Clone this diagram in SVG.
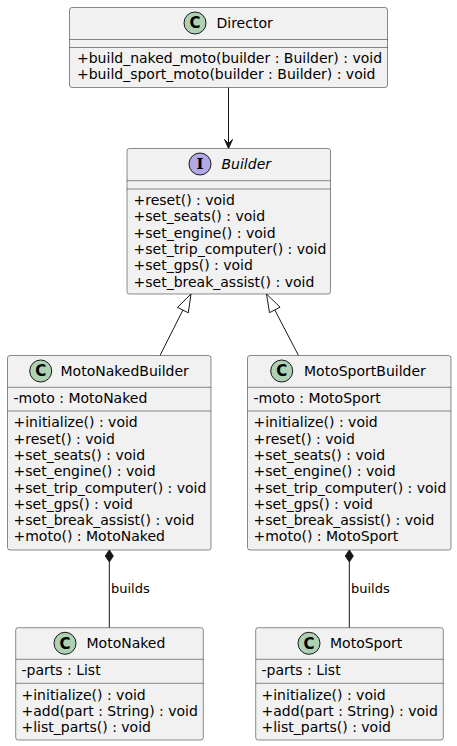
<svg xmlns="http://www.w3.org/2000/svg" width="457" height="746" viewBox="0 0 457 746">
<style>
  .box { fill: #F1F1F1; stroke: #181818; stroke-width: 0.5; }
  .sep { stroke: #181818; stroke-width: 0.5; }
  .t { font-family: "DejaVu Sans", "Noto Sans", sans-serif; font-size: 14px; fill: #000000; }
  .it { font-style: italic; }
  .lbl { font-family: "DejaVu Sans", "Noto Sans", sans-serif; font-size: 13px; fill: #000000; }
  .cc { fill: #ADD1B2; stroke: #181818; stroke-width: 1; }
  .ci { fill: #B4A7E5; stroke: #181818; stroke-width: 1; }
  .cl { font-family: "DejaVu Sans", sans-serif; font-size: 15px; font-weight: bold; fill: #000000; text-anchor: middle; }
  .il { font-family: "DejaVu Serif", "Liberation Serif", serif; font-size: 15px; font-weight: bold; fill: #000000; text-anchor: middle; }
  .edge { stroke: #181818; stroke-width: 1; fill: none; }
</style>

<g id="connectors">
  <line class="edge" x1="228.5" y1="87.5" x2="228.5" y2="147"/>
  <polygon points="228.5,148.5 224.5,139.5 228.5,143.5 232.5,139.5" fill="#181818" stroke="#181818" stroke-width="1"/>
  <line class="edge" x1="182.9" y1="310.1" x2="160" y2="355.5"/>
  <polygon points="191,294 177.5,307.4 188.3,312.8" fill="none" stroke="#181818" stroke-width="1"/>
  <line class="edge" x1="274.8" y1="310" x2="298.5" y2="355.5"/>
  <polygon points="266.5,294 280.1,307.2 269.5,312.7" fill="none" stroke="#181818" stroke-width="1"/>
  <polygon points="109.3,550 105.3,556 109.3,562 113.3,556" fill="#181818" stroke="#181818" stroke-width="1"/>
  <line class="edge" x1="109.3" y1="562" x2="109.3" y2="627.7"/>
  <text class="lbl" x="111" y="593">builds</text>
  <polygon points="349.3,550 345.3,556 349.3,562 353.3,556" fill="#181818" stroke="#181818" stroke-width="1"/>
  <line class="edge" x1="349.3" y1="562" x2="349.3" y2="627.7"/>
  <text class="lbl" x="351" y="593">builds</text>
</g>

<g id="Director">
  <rect class="box" x="69.5" y="7.5" width="318" height="80" rx="2.5" ry="2.5"/>
  <ellipse class="cc" cx="195" cy="23" rx="11" ry="11"/>
  <text class="cl" x="195" y="28.3">C</text>
  <text class="t" x="216.5" y="28">Director</text>
  <line class="sep" x1="69.5" y1="39.5" x2="387.5" y2="39.5"/>
  <line class="sep" x1="69.5" y1="47.5" x2="387.5" y2="47.5"/>
  <text class="t" x="77" y="63">+build_naked_moto(builder : Builder) : void</text>
  <text class="t" x="77" y="79.3">+build_sport_moto(builder : Builder) : void</text>
</g>

<g id="Builder">
  <rect class="box" x="127" y="148.5" width="203.5" height="145.5" rx="2.5" ry="2.5"/>
  <ellipse class="ci" cx="200" cy="164" rx="11" ry="11"/>
  <text class="il" x="200" y="169.3">I</text>
  <text class="t it" x="221.5" y="169">Builder</text>
  <line class="sep" x1="127" y1="180.7" x2="330.5" y2="180.7"/>
  <line class="sep" x1="127" y1="189" x2="330.5" y2="189"/>
  <text class="t" x="133.5" y="205">+reset() : void</text>
  <text class="t" x="133.5" y="221.3">+set_seats() : void</text>
  <text class="t" x="133.5" y="237.6">+set_engine() : void</text>
  <text class="t" x="133.5" y="253.9">+set_trip_computer() : void</text>
  <text class="t" x="133.5" y="270.2">+set_gps() : void</text>
  <text class="t" x="133.5" y="286.5">+set_break_assist() : void</text>
</g>

<g id="MotoNakedBuilder">
  <rect class="box" x="7.5" y="355.5" width="203.5" height="194.5" rx="2.5" ry="2.5"/>
  <ellipse class="cc" cx="40.7" cy="371" rx="11" ry="11"/>
  <text class="cl" x="40.7" y="376.3">C</text>
  <text class="t" x="60.5" y="376">MotoNakedBuilder</text>
  <line class="sep" x1="7.5" y1="387.3" x2="211" y2="387.3"/>
  <text class="t" x="13.5" y="403.3">-moto : MotoNaked</text>
  <line class="sep" x1="7.5" y1="411" x2="211" y2="411"/>
  <text class="t" x="13.5" y="427.3">+initialize() : void</text>
  <text class="t" x="13.5" y="443.6">+reset() : void</text>
  <text class="t" x="13.5" y="459.9">+set_seats() : void</text>
  <text class="t" x="13.5" y="476.2">+set_engine() : void</text>
  <text class="t" x="13.5" y="492.5">+set_trip_computer() : void</text>
  <text class="t" x="13.5" y="508.8">+set_gps() : void</text>
  <text class="t" x="13.5" y="525.1">+set_break_assist() : void</text>
  <text class="t" x="13.5" y="541.4">+moto() : MotoNaked</text>
</g>

<g id="MotoSportBuilder">
  <rect class="box" x="247.5" y="355.5" width="203.5" height="194.5" rx="2.5" ry="2.5"/>
  <ellipse class="cc" cx="281.7" cy="371" rx="11" ry="11"/>
  <text class="cl" x="281.7" y="376.3">C</text>
  <text class="t" x="304" y="376">MotoSportBuilder</text>
  <line class="sep" x1="247.5" y1="387.3" x2="451" y2="387.3"/>
  <text class="t" x="253.5" y="403.3">-moto : MotoSport</text>
  <line class="sep" x1="247.5" y1="411" x2="451" y2="411"/>
  <text class="t" x="253.5" y="427.3">+initialize() : void</text>
  <text class="t" x="253.5" y="443.6">+reset() : void</text>
  <text class="t" x="253.5" y="459.9">+set_seats() : void</text>
  <text class="t" x="253.5" y="476.2">+set_engine() : void</text>
  <text class="t" x="253.5" y="492.5">+set_trip_computer() : void</text>
  <text class="t" x="253.5" y="508.8">+set_gps() : void</text>
  <text class="t" x="253.5" y="525.1">+set_break_assist() : void</text>
  <text class="t" x="253.5" y="541.4">+moto() : MotoSport</text>
</g>

<g id="MotoNaked">
  <rect class="box" x="15.7" y="627.7" width="187.6" height="112.3" rx="2.5" ry="2.5"/>
  <ellipse class="cc" cx="65" cy="643.3" rx="11" ry="11"/>
  <text class="cl" x="65" y="648.6">C</text>
  <text class="t" x="86.5" y="648.3">MotoNaked</text>
  <line class="sep" x1="15.7" y1="659.3" x2="203.3" y2="659.3"/>
  <text class="t" x="21.5" y="675.3">-parts : List</text>
  <line class="sep" x1="15.7" y1="683.3" x2="203.3" y2="683.3"/>
  <text class="t" x="21.5" y="699.5">+initialize() : void</text>
  <text class="t" x="21.5" y="715.8">+add(part : String) : void</text>
  <text class="t" x="21.5" y="732.1">+list_parts() : void</text>
</g>

<g id="MotoSport">
  <rect class="box" x="255.7" y="627.7" width="187.6" height="112.3" rx="2.5" ry="2.5"/>
  <ellipse class="cc" cx="309" cy="643.3" rx="11" ry="11"/>
  <text class="cl" x="309" y="648.6">C</text>
  <text class="t" x="330" y="648.3">MotoSport</text>
  <line class="sep" x1="255.7" y1="659.3" x2="443.3" y2="659.3"/>
  <text class="t" x="261.5" y="675.3">-parts : List</text>
  <line class="sep" x1="255.7" y1="683.3" x2="443.3" y2="683.3"/>
  <text class="t" x="261.5" y="699.5">+initialize() : void</text>
  <text class="t" x="261.5" y="715.8">+add(part : String) : void</text>
  <text class="t" x="261.5" y="732.1">+list_parts() : void</text>
</g>
</svg>
